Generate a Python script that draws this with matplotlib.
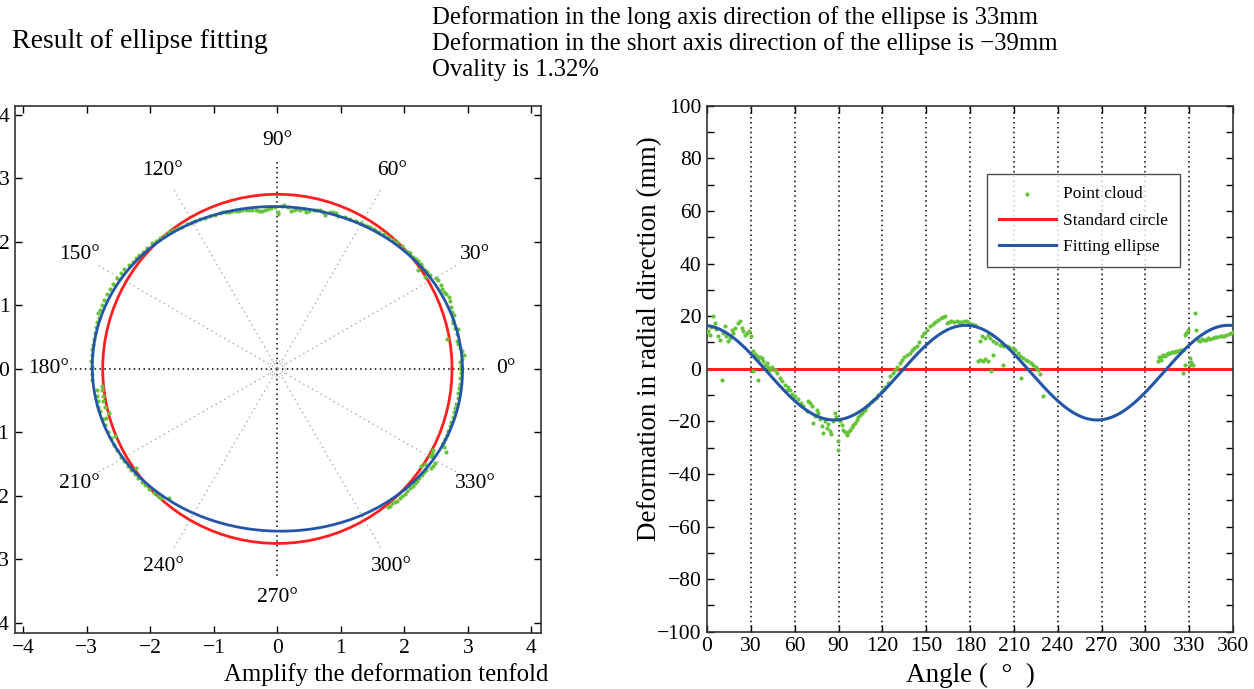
import numpy as np
import matplotlib
matplotlib.use('Agg')
import matplotlib.pyplot as plt

plt.rcParams['font.family'] = ['Liberation Serif', 'DejaVu Serif']
plt.rcParams['axes.unicode_minus'] = True

# ---------------- data ----------------
standard_radius_mm = 2750.0
long_axis_def_mm = 16.5
short_axis_def_mm = -19.5
ellipse_rotation_deg = -3.0
amplification = 10

cloud_angle_deg = [
    0.2, 1, 2, 3, 4.3, 5.5, 6.5, 7.7, 8.9, 10, 11, 12.3, 13, 14.6, 15.5, 16.9, 18, 19.5,
    21.4, 22.6, 24, 24.8, 26, 27.1, 29, 30,
    31.7, 31.7, 33, 34, 35, 35, 36.2, 37.4, 38.5, 39.7, 41, 42, 43, 44.5, 46.5, 48, 50,
    51.5, 53.4, 54.5, 55.5, 56.8, 58, 59, 60.2,
    62, 64, 66, 68.2, 69.3, 70.5, 71.6, 72.7, 73.9, 75, 76, 77, 78.5, 79.6, 80.5, 81.9,
    83, 84.1, 85, 86.4, 87.6, 88.5, 89.8, 89.8, 90.8, 92.1, 93.2, 94.5, 95.6, 96.5, 97.8,
    99, 100.1, 101.2, 102.4, 103.5, 104.7, 106, 107, 108.1, 109, 110.4, 112, 113.8, 115.5,
    117.2, 119, 120.6, 122, 124,
    125.2, 127, 128.5, 130, 132, 133.5, 135, 137, 138.9, 140.5, 142, 143.5, 145, 146.9,
    148.5, 150.5, 152.6, 154.5, 156.3, 158.2, 160, 161.5, 162.8, 164, 165.5, 167, 168.8,
    170.8, 172.5, 174, 175.8, 177.7, 179.5, 181.5, 183.4,
    186.8, 188.5, 190.2, 192, 193.5, 195.9, 198, 200.4, 202.5, 205, 207, 209.5, 211, 213,
    214.5, 216.4, 218, 219.8, 221.5, 223.2, 225, 226.6, 228, 230, 185.5, 187, 188.9,
    190.5, 192.4, 194.6, 195.9, 202.6, 215.2,
    308.6, 309.5, 310.5, 311.5, 312.2, 313.5, 314.5, 315.6, 316.7, 318, 319.2, 320.3,
    321.3, 322.5, 323.6, 324.7, 325.8, 327, 328, 329.2, 330.4, 327, 330.4, 325.8, 332.6,
    331.5, 333.8, 335, 336, 337.2, 338.5, 340, 341.8, 343, 344.5, 346.3, 347.5, 349,
    350.9, 352.5, 354, 355.4, 357, 358.8, 360,
]
cloud_def_mm = [
    13.8, 14.5, 12.8, 16, 19.9, 17.3, 15, 12.3, 11, -4.2, 13.5, 16.3, 12.3, 10.4, 11.5, 14.8, 13.5, 15.5,
    17.3, 18, 15.5, 14.2, 12.8, 13.5, 14.2, 12.5,
    6.6, -1, 5.5, 4.7, 3.4, -4.2, 4.5, 4.1, 3.0, 1.5, 2.2, 0.8, -0.4, 0.5, -0.4, -1.8, -3.5,
    -4.5, -6.1, -8, -7, -8, -9.5, -11.1, -10.3,
    -11.5, -13, -14, -16.2, -12.4, -13, -14.3, -20.6, -18.1, -15.6, -17, -19, -21.6, -24.4, -20, -22.5,
    -21, -23.8, -25, -20, -16.8, -18.5, -27.6, -30.8, -20, -21.3, -23.2, -24, -25.1, -24, -23.2,
    -22, -21.3, -20.5, -19.4, -18.5, -17.5, -17, -16, -15.6, -14.5, -13.7, -12.8, -11.8, -11,
    -9.9, -9, -8, -6.8, -5.4,
    -2.9, -1.5, -0.5, 0.8, 2.2, 3.2, 4.3, 5.2, 6, 7, 7.8, 8.5, 10.2, 12.3,
    13.5, 14.8, 16.1, 17, 17.8, 18.6, 19.2, 19.6, 20.1, 17.4, 17.7, 18, 17.6,
    18, 17.8, 17.9, 18.1, 18, 17.4, 17, 16.7,
    10.4, 12.5, 11.7, 13, 11.5, 10.4, 9.8, 9.1, 8.8, 8.5, 8.2, 7.9, 7, 6,
    5, 4.1, 3.3, 2.8, 2.2, 1.5, 0.5, -0.4, -2, -10.5, 2.8, 3.2, 2.8,
    3.5, 2.8, -1, 5.3, 1.5, -3.5,
    3.0, 4.5, 3.4, 4.8, 5.3, 5.0, 5.6, 5.8, 6.0, 6.2, 6.4, 6.3,
    6.6, 6.8, 7.0, 7.1, 7.2, 12.9, 13.5, 14.8, 4.1, 1.5, 1.5, -1.7, 1.5,
    2.5, 21.1, 14.8, 11, 10.4, 11.2, 10.8, 11, 11.5, 11.3, 11.7, 12, 12.1,
    12.3, 12.5, 12.6, 12.9, 13.2, 13.5, 13.8,
]

angle_ticks = list(range(0, 361, 30))
def_ticks = list(range(-100, 101, 10))
polar_label_angles = list(range(0, 360, 30))
cart_ticks = [-4, -3, -2, -1, 0, 1, 2, 3, 4]

title_left = "Result of ellipse fitting"
info_lines = [
    "Deformation in the long axis direction of the ellipse is 33mm",
    "Deformation in the short axis direction of the ellipse is \u221239mm",
    "Ovality is 1.32%",
]

RED = '#ff1f1f'
BLUE = '#2456a8'
GREEN = '#66c43a'

# ---------------- derived curves ----------------
cloud_ang = np.array(cloud_angle_deg)
cloud_d = np.array(cloud_def_mm)

theta_deg = np.linspace(0, 360, 721)
t = np.deg2rad(theta_deg - ellipse_rotation_deg)
a = standard_radius_mm + long_axis_def_mm
b = standard_radius_mm + short_axis_def_mm
r_ell = a * b / np.sqrt((b * np.cos(t)) ** 2 + (a * np.sin(t)) ** 2)
fit_def = r_ell - standard_radius_mm

# ---------------- figure ----------------
fig = plt.figure(figsize=(12.54, 6.89), dpi=100)
W, H = 1254.0, 689.0

def ax_rect(x0, y0, x1, y1):
    return [x0 / W, 1 - y1 / H, (x1 - x0) / W, (y1 - y0) / H]

FS_TICK = 15.5

# ---- left panel ----
axL = fig.add_axes(ax_rect(15, 106, 541, 633))
axL.set_xlim(-4.13, 4.15)
axL.set_ylim(-4.16, 4.14)

R_m = standard_radius_mm / 1000.0
# polar grid
for ang in polar_label_angles:
    rad = np.deg2rad(ang)
    main = ang % 90 == 0
    axL.plot([0, 3.3 * np.cos(rad)], [0, 3.3 * np.sin(rad)],
             color='black' if main else '#9a9a9a',
             linestyle=(0, (1, 2.2)) if main else (0, (1, 3)),
             lw=1.1 if main else 0.9, zorder=1)
    lx, ly = 3.6 * np.cos(rad), 3.6 * np.sin(rad)
    axL.text(lx, ly, f"{ang}\u00b0", ha='center', va='center', fontsize=FS_TICK, zorder=2)
cc = np.linspace(0, 2 * np.pi, 100)
axL.plot(0.13 * np.cos(cc), 0.13 * np.sin(cc), color='#9a9a9a', linestyle=(0, (1, 2)), lw=0.8)

# standard circle
axL.plot(R_m * np.cos(cc), R_m * np.sin(cc), color=RED, lw=2.0, zorder=3)
# point cloud (amplified)
r_cloud = (standard_radius_mm + amplification * cloud_d) / 1000.0
axL.scatter(r_cloud * np.cos(np.deg2rad(cloud_ang)), r_cloud * np.sin(np.deg2rad(cloud_ang)),
            s=9, color=GREEN, linewidths=0, zorder=4)
# fitted ellipse (amplified)
r_fit = (standard_radius_mm + amplification * fit_def) / 1000.0
th = np.deg2rad(theta_deg)
axL.plot(r_fit * np.cos(th), r_fit * np.sin(th), color=BLUE, lw=2.0, zorder=5)

axL.set_xticks(cart_ticks)
axL.set_yticks(cart_ticks)
axL.tick_params(direction='in', length=5, width=1, top=True, right=True, labelsize=FS_TICK, pad=4)
for sp in axL.spines.values():
    sp.set_linewidth(1.2)
    sp.set_color('#333333')

# ---- right panel ----
axR = fig.add_axes(ax_rect(707, 105.7, 1233, 631.7))
axR.set_xlim(0, 360)
axR.set_ylim(-100, 100)
for ang in angle_ticks[1:-1]:
    axR.axvline(ang, color='black', linestyle=(0, (1, 2.2)), lw=1.1, zorder=1)
axR.scatter(cloud_ang, cloud_d, s=9, color=GREEN, linewidths=0, zorder=3, label='Point cloud')
axR.plot([0, 360], [0, 0], color=RED, lw=2.2, zorder=2, label='Standard circle')
axR.plot(theta_deg, fit_def, color=BLUE, lw=2.2, zorder=4, label='Fitting ellipse')

axR.set_xticks(angle_ticks)
axR.set_yticks(def_ticks)
axR.set_yticklabels([("\u2212" + str(-v) if v < 0 else str(v)) if v % 20 == 0 else '' for v in def_ticks])
axR.tick_params(direction='in', length=5, width=1, top=True, right=True, labelsize=FS_TICK, pad=4)
for sp in axR.spines.values():
    sp.set_linewidth(1.2)
    sp.set_color('#333333')

leg = axR.legend(loc='upper left', bbox_to_anchor=(0.515, 0.887), fontsize=12.5,
                 frameon=True, fancybox=False, edgecolor='#222222', handlelength=3.3,
                 markerscale=1.0, borderpad=0.7, labelspacing=0.6, handletextpad=0.4)
leg.get_frame().set_linewidth(1.0)

# ---- texts ----
fig.text(12 / W, 1 - 42 / H, title_left, fontsize=20, ha='left', va='center')
for i, line in enumerate(info_lines):
    fig.text(432 / W, 1 - (18 + 26 * i) / H, line, fontsize=17.8, ha='left', va='center')

fig.text(386 / W, 1 - 675 / H, "Amplify the deformation tenfold", fontsize=17.8, ha='center', va='center')
fig.text(970 / W, 1 - 675 / H, "Angle (  \u00b0  )", fontsize=19.5, ha='center', va='center')
fig.text(650 / W, 1 - 339 / H, "Deformation in radial direction (mm)", fontsize=19.5,
         ha='center', va='center', rotation=90)

fig.savefig('out.png', dpi=100)
